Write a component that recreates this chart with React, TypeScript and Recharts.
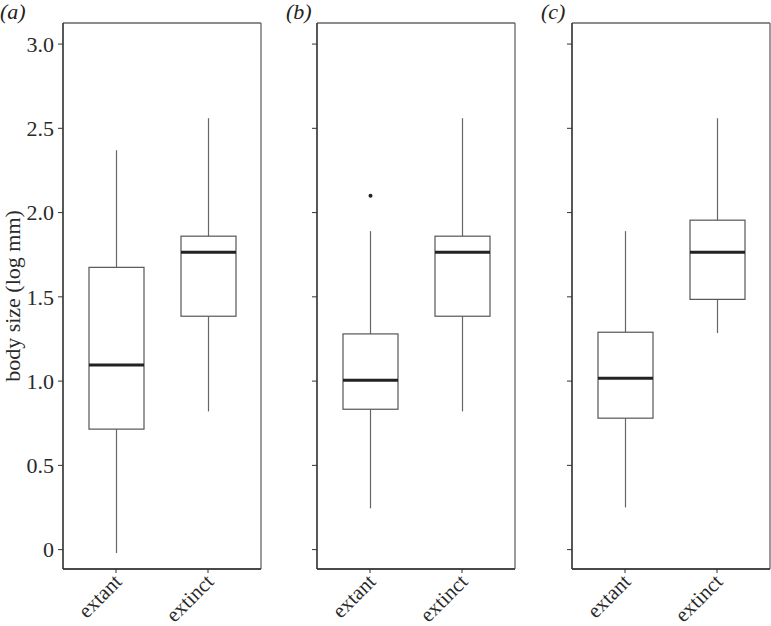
import React from 'react';
import { ComposedChart, Bar, XAxis, YAxis, CartesianGrid } from 'recharts';

const categories = ['extant', 'extinct'];
const panelLabels = ['(a)', '(b)', '(c)'];
const yTicks = [0, 0.5, 1.0, 1.5, 2.0, 2.5, 3.0];
const yAxisTitle = 'body size (log mm)';

// five-number summaries, [extant, extinct]
const panelAMin = [-0.02, 0.82];
const panelAQ1 = [0.715, 1.385];
const panelAMedian = [1.095, 1.765];
const panelAQ3 = [1.675, 1.86];
const panelAMax = [2.37, 2.56];
const panelAOutliers: number[][] = [[], []];

const panelBMin = [0.245, 0.82];
const panelBQ1 = [0.833, 1.385];
const panelBMedian = [1.005, 1.765];
const panelBQ3 = [1.28, 1.86];
const panelBMax = [1.89, 2.56];
const panelBOutliers: number[][] = [[2.1], []];

const panelCMin = [0.25, 1.285];
const panelCQ1 = [0.78, 1.485];
const panelCMedian = [1.017, 1.765];
const panelCQ3 = [1.29, 1.955];
const panelCMax = [1.89, 2.56];
const panelCOutliers: number[][] = [[], []];

const build = (mn: number[], q1: number[], md: number[], q3: number[], mx: number[], out: number[][]) =>
  categories.map((cat, i) => ({ cat, min: mn[i], q1: q1[i], med: md[i], q3: q3[i], max: mx[i], out: out[i] }));

const panels = [
  build(panelAMin, panelAQ1, panelAMedian, panelAQ3, panelAMax, panelAOutliers),
  build(panelBMin, panelBQ1, panelBMedian, panelBQ3, panelBMax, panelBOutliers),
  build(panelCMin, panelCQ1, panelCMedian, panelCQ3, panelCMax, panelCOutliers),
];

const FONT = "'Liberation Serif', 'Times New Roman', serif";

const BoxShape = (props: any) => {
  const { x, y, width, height, payload } = props;
  if (!payload || height == null) return null;
  const span = payload.max - payload.min;
  const k = height / span;
  const py = (v: number) => y + (payload.max - v) * k;
  const cx = x + width / 2;
  return (
    <g>
      <line x1={cx} x2={cx} y1={py(payload.max)} y2={py(payload.q3)} stroke="#666" strokeWidth={1.2} />
      <line x1={cx} x2={cx} y1={py(payload.q1)} y2={py(payload.min)} stroke="#666" strokeWidth={1.2} />
      <rect x={x} y={py(payload.q3)} width={width} height={py(payload.q1) - py(payload.q3)} fill="#fff" stroke="#555" strokeWidth={1.2} />
      <line x1={x} x2={x + width} y1={py(payload.med)} y2={py(payload.med)} stroke="#222" strokeWidth={3} />
      {payload.out.map((v: number, i: number) => (
        <circle key={i} cx={cx} cy={py(v)} r={2} fill="#222" />
      ))}
    </g>
  );
};

const XTick = (props: any) => {
  const { x, y, payload } = props;
  const ax = x + 2;
  const ay = y + 3;
  return (
    <text
      x={ax}
      y={ay}
      transform={`rotate(-45, ${ax}, ${ay})`}
      textAnchor="end"
      dominantBaseline="central"
      fontFamily={FONT}
      fontSize={21}
      fill="#2a2a2a"
    >
      {payload.value}
    </text>
  );
};

const YTitle = (props: any) => {
  const vb = props.viewBox || { x: 0, y: 0, width: 0, height: 0 };
  const cx = vb.x + 12;
  const cy = vb.y + vb.height / 2;
  return (
    <text
      x={cx}
      y={cy}
      transform={`rotate(-90, ${cx}, ${cy})`}
      textAnchor="middle"
      dominantBaseline="central"
      fontFamily={FONT}
      fontSize={22}
      fill="#2a2a2a"
    >
      {yAxisTitle}
    </text>
  );
};

const layout = [
  { left: 0, yw: 63 },
  { left: 270, yw: 47 },
  { left: 525, yw: 47 },
];

const fmt = (v: number) => (v === 0 ? '0' : v.toFixed(1));

const hEdges = ({ offset }: any) => [offset.top, offset.top + offset.height];
const vEdges = ({ offset }: any) => [offset.left, offset.left + offset.width];

export default function App() {
  return (
    <div style={{ position: 'absolute', left: 0, top: 0, width: 771, height: 626, background: '#fff' }}>
      {panels.map((data, pi) => {
        const L = layout[pi];
        const w = L.yw + 198 + 1;
        return (
          <div key={pi} style={{ position: 'absolute', left: L.left, top: 0, width: w, height: 626 }}>
            <ComposedChart width={w} height={626} data={data} margin={{ top: 23, right: 1, left: 0, bottom: 7 }}>
              <CartesianGrid
                stroke="#666"
                strokeWidth={1.3}
                horizontalCoordinatesGenerator={hEdges}
                verticalCoordinatesGenerator={vEdges}
              />
              <XAxis
                dataKey="cat"
                height={50}
                padding={{ left: 7, right: 7 }}
                tickSize={4}
                tickMargin={2}
                tick={<XTick />}
                axisLine={{ stroke: '#333', strokeWidth: 1.3 }}
                tickLine={{ stroke: '#333' }}
                interval={0}
              />
              <YAxis
                type="number"
                domain={[-0.115, 3.125]}
                allowDataOverflow
                ticks={yTicks}
                width={L.yw}
                tickSize={5}
                tickMargin={4}
                tickFormatter={pi === 0 ? fmt : () => ''}
                tick={{ fontFamily: FONT, fontSize: 22, fill: '#2a2a2a' }}
                axisLine={{ stroke: '#333', strokeWidth: 1.3 }}
                tickLine={{ stroke: '#333' }}
                label={pi === 0 ? { content: (p: any) => <YTitle {...p} /> } : undefined}
              />
              <Bar
                dataKey={(d: any) => [d.min, d.max]}
                barSize={55}
                shape={<BoxShape />}
                isAnimationActive={false}
              />
            </ComposedChart>
            <div
              style={{
                position: 'absolute',
                left: pi === 0 ? 0 : L.yw - 31,
                top: 1,
                fontFamily: FONT,
                fontStyle: 'italic',
                fontSize: 22,
                lineHeight: '22px',
                color: '#222',
              }}
            >
              {panelLabels[pi]}
            </div>
          </div>
        );
      })}
    </div>
  );
}
